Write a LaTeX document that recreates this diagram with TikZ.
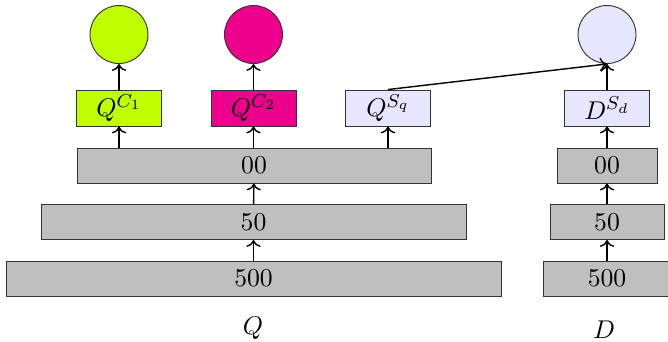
\documentclass[tikz,border=0pt,11pt]{standalone}
\usepackage{tikz}
\usetikzlibrary{positioning, arrows.meta}
\usepackage{mathtools}

\definecolor{limegreen}{RGB}{191,255,0}
\definecolor{hotpink}{RGB}{236,0,140}
\definecolor{paleblue}{RGB}{230,230,255}

\tikzset{
    layer/.style={draw=black!80, fill=black!25, rectangle, minimum height=0.525cm, inner sep=0pt},
    embed/.style={draw=black!80, rectangle, minimum width=1.275cm, minimum height=0.54cm, inner sep=0pt},
    head/.style={draw=black!80, circle, minimum size=0.87cm, inner sep=0pt},
    link/.style={->, semithick}
}

\begin{document}
\begin{tikzpicture}[x=0.015cm, y=-0.015cm]
    \useasboundingbox (0,0) rectangle (668,341);

    % query tower
    \node[layer, minimum width=7.425cm] (q500) at (253.5,278.5) {500};
    \node[layer, minimum width=6.375cm] (q50) at (253.5,222) {50};
    \node[layer, minimum width=5.31cm] (q00) at (254,165.5) {00};

    \node[embed, fill=limegreen] (qc1) at (119,108) {$Q^{C_1}$};
    \node[embed, fill=hotpink] (qc2) at (253.5,108) {$Q^{C_2}$};
    \node[embed, fill=paleblue] (qsq) at (388,108) {$Q^{S_q}$};

    \node[head, fill=limegreen] (hc1) at (119,34.5) {};
    \node[head, fill=hotpink] (hc2) at (253.5,34.5) {};

    % document tower
    \node[layer, minimum width=1.92cm] (d500) at (607,278.5) {500};
    \node[layer, minimum width=1.71cm] (d50) at (607,222) {50};
    \node[layer, minimum width=1.5cm] (d00) at (607,165.5) {00};

    \node[embed, fill=paleblue] (dsd) at (607,108) {$D^{S_d}$};
    \node[head, fill=paleblue] (hsd) at (607,34.5) {};

    \node (qlabel) at (253,328) {$Q$};
    \node (dlabel) at (604,330) {$D$};

    \draw[link] (q500) -- (q50);
    \draw[link] (q50) -- (q00);
    \draw[link] (q00.north -| qc1) -- (qc1);
    \draw[link] (q00.north -| qc2) -- (qc2);
    \draw[link] (q00.north -| qsq) -- (qsq);
    \draw[link] (qc1) -- (hc1);
    \draw[link] (qc2) -- (hc2);

    \draw[link] (d500) -- (d50);
    \draw[link] (d50) -- (d00);
    \draw[link] (d00) -- (dsd);
    \draw[link] (dsd) -- (hsd);

    \draw[link] (qsq.north) -- (hsd.south);
\end{tikzpicture}
\end{document}
